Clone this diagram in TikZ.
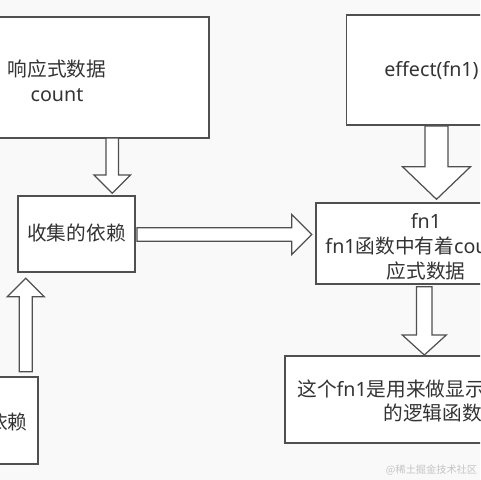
\documentclass[tikz,border=0pt]{standalone}
\usepackage{fontspec}
\setmainfont{Noto Sans}
\newfontfamily\cjk{Noto Sans CJK SC}
\usetikzlibrary{calc,positioning}

\definecolor{bgcol}{HTML}{F9F9F9}
\definecolor{edgecol}{HTML}{505050}
\definecolor{txtcol}{HTML}{333333}
\definecolor{markcol}{HTML}{C4C4C4}

\newcommand{\px}{0.02cm}
% hollow block arrow: from, to, shaft half width, head half width, head length
\newcommand{\blockarrow}[5]{%
  \coordinate (hb) at ($(#2)!#5*\px!(#1)$);
  \draw[blk] ($(#1)!#3*\px!90:(#2)$) -- ($(hb)!#3*\px!90:(#2)$) -- ($(hb)!#4*\px!90:(#2)$) -- (#2)
    -- ($(hb)!#4*\px!-90:(#2)$) -- ($(hb)!#3*\px!-90:(#2)$) -- ($(#1)!#3*\px!-90:(#2)$) -- cycle;
}

\begin{document}
\begin{tikzpicture}[x=\px,y=-\px]
  \tikzset{ box/.style={rectangle,draw=edgecol,fill=white,line width=0.7pt,inner sep=0pt},
    txt/.style={text=txtcol,inner sep=0pt,align=center,font=\fontsize{11.2}{14.4}\selectfont},
    blk/.style={draw=edgecol,fill=white,line width=0.7pt,line join=miter},
  }
  \useasboundingbox (0,0) rectangle (480,480);
  \fill[bgcol] (0,0) rectangle (480,480);
  \clip (0,0) rectangle (480,480);

  % the boxes
  \node[box,minimum width=304*\px,minimum height=121*\px] (A) at (57,77.5) {};
  \node[box,minimum width=117*\px,minimum height=76*\px] (B) at (76.5,234) {};
  \node[box,minimum width=220*\px,minimum height=81*\px] (C) at (426,243.5) {};
  \node[box,minimum width=174*\px,minimum height=110*\px] (D) at (433.5,70) {};
  \node[box,minimum width=306*\px,minimum height=87*\px] (E) at (438,399.5) {};
  \node[box,minimum width=116*\px,minimum height=87*\px] (F) at (-20,420.5) {};

  % the texts
  \node[txt] (tA) at (57,81) {{\cjk 响应式数据}\\count};
  \node[txt] (tB) at (76.5,233) {\cjk 收集的依赖};
  \node[txt] (tC) at (426,247) {fn1\\fn1{\cjk 函数中有着}count{\cjk 响}\\{\cjk 应式数据}};
  \node[txt,anchor=west] (tD) at (384,71) {effect(fn1)};
  \node[txt,anchor=west] (tE1) at (297,389) {{\cjk 这个}fn1{\cjk 是用来做显示}};
  \node[txt,anchor=west] (tE2) at (383,413) {\cjk 的逻辑函数};
  \node[txt,anchor=east] (tF) at (28,422) {\cjk 依赖};

  % the arrows between the boxes
  \coordinate (ab1) at (112.2,138);  \coordinate (ab2) at (112.2,193.3);
  \coordinate (fb1) at (25.8,371.7); \coordinate (fb2) at (25.8,278.3);
  \coordinate (bc1) at (137,234.5);  \coordinate (bc2) at (311.7,234.5);
  \coordinate (dc1) at (436.5,126);  \coordinate (dc2) at (436.5,199.3);
  \coordinate (ce1) at (424.3,286.7); \coordinate (ce2) at (424.3,355);
  \blockarrow{ab1}{ab2}{6.2}{18.3}{18.3}
  \blockarrow{fb1}{fb2}{6.5}{18.5}{18.4}
  \blockarrow{bc1}{bc2}{6.7}{20}{20}
  \blockarrow{dc1}{dc2}{11.5}{34}{32.6}
  \blockarrow{ce1}{ce2}{7.7}{22}{20}

  \node[text=markcol,inner sep=0pt,font=\cjk\fontsize{5.8}{7}\selectfont] (mark) at (431.5,470) {@稀土掘金技术社区};
\end{tikzpicture}
\end{document}
